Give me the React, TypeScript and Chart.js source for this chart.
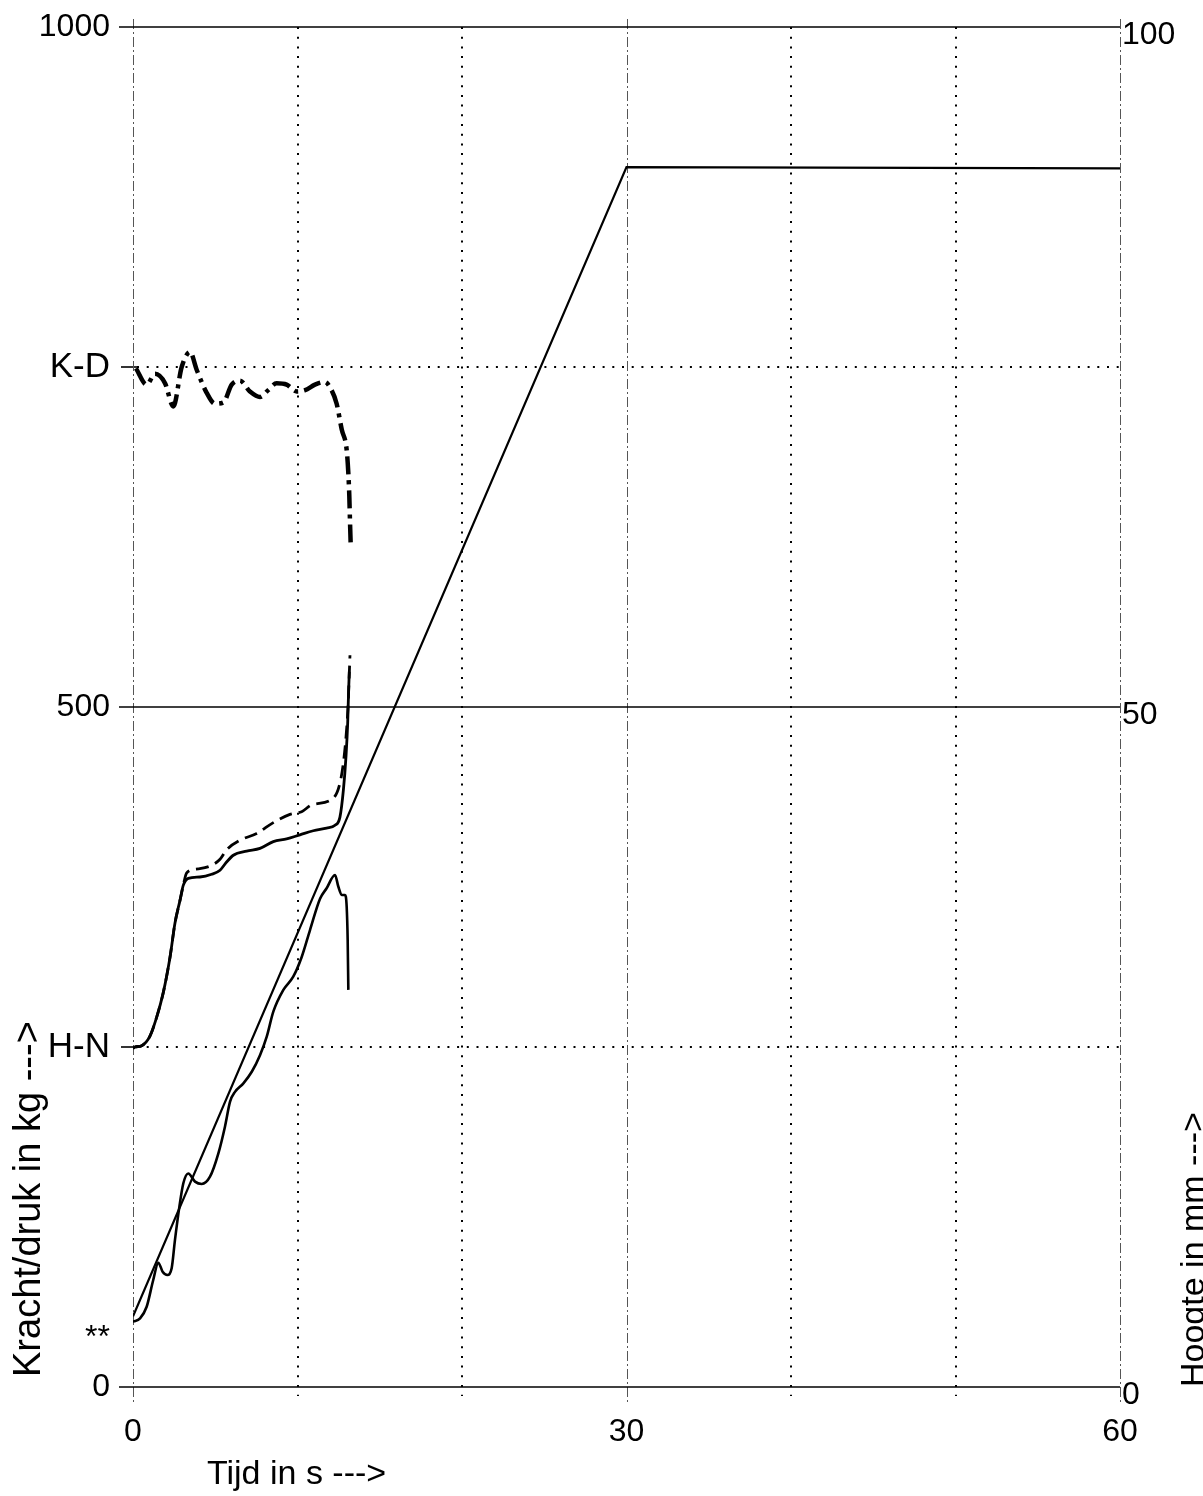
import React, { useEffect, useRef } from 'react';
import { Chart, registerables } from 'chart.js';

Chart.register(...registerables);

const FONT = '"Liberation Sans", Arial, Helvetica, sans-serif';

// ---- text ----
const xTitle = 'Tijd in s --->';
const yLeftTitle = 'Kracht/druk in kg --->';
const yRightTitle = 'Hoogte in mm --->';

// ---- ticks / grid ----
const xTickValues = [0, 30, 60];
const xDottedGrid = [10, 20, 40, 50];
const xDashDotGrid = [0, 30, 60];
const leftTickValues = [0, 36, 250, 500, 750, 1000];
const leftTickLabels = ['0', '**', 'H-N', '500', 'K-D', '1000'];
const leftSolidGrid = [0, 500, 1000];
const leftDottedGrid = [250, 750];
const rightTickValues = [0, 50, 100];
const rightTickLabels = ['0', '50', '100'];

// ---- series: dash-dot force curve (kg) ----
const kdTime = [0.18, 0.83, 1.34, 1.95, 2.45, 2.96, 3.47, 3.87, 4.48, 4.98, 5.5, 6.0, 6.5, 7.11, 7.72, 8.22, 8.73, 9.34, 9.95, 10.46, 11.06, 11.67, 11.98, 12.38, 12.69, 12.99, 13.09, 13.15, 13.19, 13.23];
const kdForce = [749, 737, 745, 738, 721, 750, 761, 748, 731, 723, 724, 737, 740, 732, 728, 733, 738, 737, 732, 733, 737, 739, 735, 723, 704, 689, 672, 655, 637, 621];

// ---- series: solid force curve (kg) ----
const solidTime = [0, 0.12, 0.53, 1.03, 1.44, 1.84, 2.25, 2.55, 2.86, 3.06, 3.36, 4.07, 4.78, 5.29, 5.69, 6.1, 6.91, 7.72, 8.53, 9.34, 10.15, 10.96, 11.77, 12.28, 12.58, 12.79, 12.95, 13.05, 13.11, 13.15];
const solidForce = [249, 250, 251, 258, 272, 290, 316, 341, 358, 369, 374, 375, 377, 380, 386, 391, 394, 396, 401, 403, 406, 409, 411, 413, 419, 439, 464, 488, 513, 526];

// ---- series: dashed force curve (kg) ----
const dashedTime = [0, 0.12, 0.53, 1.03, 1.44, 1.84, 2.25, 2.55, 2.86, 3.06, 3.26, 3.97, 4.68, 5.29, 5.69, 6.5, 7.52, 8.53, 9.54, 10.25, 10.86, 12.18, 12.58, 12.79, 12.95, 13.07, 13.15, 13.19];
const dashedForce = [249, 250, 251, 258, 272, 290, 316, 341, 358, 369, 378, 381, 383, 388, 395, 402, 407, 415, 421, 423, 428, 433, 444, 459, 478, 500, 525, 538];

// ---- series: measured height (mm) ----
const heightTime = [0, 0.43, 0.83, 1.23, 1.54, 1.8, 2.09, 2.35, 2.55, 2.82, 3.06, 3.36, 3.77, 4.18, 4.68, 5.19, 5.59, 5.9, 6.2, 6.71, 7.22, 7.72, 8.13, 8.53, 9.14, 9.74, 10.25, 10.76, 11.37, 11.77, 12.28, 12.48, 12.69, 12.89, 12.99, 13.05, 13.09];
const heightMm = [4.8, 5.05, 5.9, 7.87, 9.14, 8.48, 8.24, 8.73, 10.8, 13.26, 14.98, 15.7, 15.1, 14.93, 15.46, 17.18, 19.14, 20.98, 21.7, 22.33, 23.18, 24.4, 25.76, 27.6, 29.2, 30.17, 31.6, 33.6, 35.9, 36.67, 37.65, 36.8, 36.18, 36.18, 35.3, 32.87, 29.2];

// ---- series: programmed height ramp (mm) ----
const rampTime = [0, 30, 60];
const rampMm = [5.2, 89.7, 89.6];

const pts = (xs: number[], ys: number[]) => xs.map((x, i) => ({ x, y: ys[i] }));

const paperGrid = {
  id: 'paperGrid',
  beforeDatasetsDraw(chart: any) {
    const { ctx, chartArea, scales } = chart;
    const { left, right, top, bottom } = chartArea;
    const xs = scales.x;
    const ys = scales.y;
    const line = (x1: number, y1: number, x2: number, y2: number) => {
      ctx.beginPath();
      ctx.moveTo(x1, y1);
      ctx.lineTo(x2, y2);
      ctx.stroke();
    };
    ctx.save();
    // dotted verticals
    ctx.strokeStyle = '#000';
    ctx.lineWidth = 2;
    ctx.setLineDash([2, 7.7]);
    xDottedGrid.forEach((v) => {
      const px = Math.round(xs.getPixelForValue(v));
      line(px, top, px, bottom + 9);
    });
    // dotted horizontals
    leftDottedGrid.forEach((v) => {
      const py = Math.round(ys.getPixelForValue(v));
      line(left + 4, py, right, py);
    });
    ctx.setLineDash([]);
    ctx.lineWidth = 1.6;
    leftDottedGrid.forEach((v) => {
      const py = Math.round(ys.getPixelForValue(v));
      line(left - 12, py, left + 4, py);
    });
    // dash-dot verticals
    ctx.strokeStyle = '#555';
    ctx.lineWidth = 1;
    ctx.setLineDash([10, 3, 2, 3]);
    xDashDotGrid.forEach((v) => {
      const px = Math.round(xs.getPixelForValue(v)) + 0.5;
      line(px, top - 8, px, bottom + 18);
    });
    // solid horizontals
    ctx.setLineDash([]);
    ctx.strokeStyle = '#000';
    ctx.lineWidth = 1.6;
    leftSolidGrid.forEach((v) => {
      const py = Math.round(ys.getPixelForValue(v));
      line(left - 14, py, right, py);
    });
    ctx.restore();
  },
};

const axisTitles = {
  id: 'axisTitles',
  afterDraw(chart: any) {
    const { ctx, chartArea } = chart;
    ctx.save();
    ctx.fillStyle = '#000';
    ctx.textAlign = 'left';
    ctx.textBaseline = 'alphabetic';
    ctx.font = `34px ${FONT}`;
    ctx.fillText(xTitle, 207, 1484);

    ctx.save();
    ctx.translate(40, chartArea.bottom - 10);
    ctx.rotate(-Math.PI / 2);
    ctx.font = `38px ${FONT}`;
    ctx.fillText(yLeftTitle, 0, 0);
    ctx.restore();

    ctx.save();
    ctx.translate(1204, chartArea.bottom);
    ctx.rotate(-Math.PI / 2);
    ctx.font = `34px ${FONT}`;
    ctx.fillText(yRightTitle, 0, 0);
    ctx.restore();
    ctx.restore();
  },
};

const zeroPad = (s: any) => {
  s.paddingTop = 0;
  s.paddingBottom = 0;
  s.paddingLeft = 0;
  s.paddingRight = 0;
};

export default function App() {
  const canvasRef = useRef<HTMLCanvasElement | null>(null);

  useEffect(() => {
    document.body.style.margin = '0';
    const canvas = canvasRef.current;
    if (!canvas) return;
    const common = {
      pointRadius: 0,
      fill: false,
      borderColor: '#000',
      cubicInterpolationMode: 'monotone' as const,
    };
    const chart = new Chart(canvas, {
      type: 'line',
      data: {
        datasets: [
          { ...common, label: 'Hoogte (programma)', data: pts(rampTime, rampMm), yAxisID: 'y1', borderWidth: 2.2, cubicInterpolationMode: 'default', tension: 0 },
          { ...common, label: 'Hoogte (gemeten)', data: pts(heightTime, heightMm), yAxisID: 'y1', borderWidth: 2.6 },
          { ...common, label: 'Druk', data: pts(dashedTime, dashedForce), yAxisID: 'y', borderWidth: 2.8, borderDash: [13, 7] },
          { ...common, label: 'Kracht', data: pts(solidTime, solidForce), yAxisID: 'y', borderWidth: 2.8 },
          { ...common, label: 'K-D', data: pts(kdTime, kdForce), yAxisID: 'y', borderWidth: 4.5, borderDash: [18, 6, 4, 6] },
        ],
      },
      options: {
        responsive: false,
        animation: false,
        devicePixelRatio: 1,
        layout: { padding: { top: 27, left: 0, right: 0, bottom: 0 } },
        plugins: { legend: { display: false }, tooltip: { enabled: false } },
        scales: {
          x: {
            type: 'linear',
            min: 0,
            max: 60,
            grid: { display: false, drawTicks: false },
            border: { display: false },
            afterBuildTicks: (s: any) => {
              s.ticks = xTickValues.map((v) => ({ value: v }));
            },
            afterFit: (s: any) => {
              s.height = 109;
              zeroPad(s);
            },
            ticks: {
              color: '#000',
              font: { family: FONT, size: 32 },
              padding: 26,
              maxRotation: 0,
              autoSkip: false,
            },
          },
          y: {
            type: 'linear',
            position: 'left',
            min: 0,
            max: 1000,
            grid: { display: false, drawTicks: false },
            border: { display: false },
            afterBuildTicks: (s: any) => {
              s.ticks = leftTickValues.map((v) => ({ value: v }));
            },
            afterFit: (s: any) => {
              s.width = 133;
              zeroPad(s);
            },
            ticks: {
              color: '#000',
              autoSkip: false,
              padding: 23,
              font: (c: any) => ({
                family: FONT,
                size: c.tick && (c.tick.value === 250 || c.tick.value === 750) ? 35 : 32,
              }),
              callback: (v: any) => {
                const i = leftTickValues.indexOf(Number(v));
                return i >= 0 ? leftTickLabels[i] : '';
              },
            },
          },
          y1: {
            type: 'linear',
            position: 'right',
            min: 0,
            max: 100,
            grid: { display: false, drawTicks: false },
            border: { display: false },
            afterBuildTicks: (s: any) => {
              s.ticks = rightTickValues.map((v) => ({ value: v }));
            },
            afterFit: (s: any) => {
              s.width = 83;
              zeroPad(s);
            },
            ticks: {
              color: '#000',
              autoSkip: false,
              padding: 2,
              labelOffset: 8,
              font: { family: FONT, size: 32 },
              callback: (v: any) => {
                const i = rightTickValues.indexOf(Number(v));
                return i >= 0 ? rightTickLabels[i] : '';
              },
            },
          },
        },
      },
      plugins: [paperGrid, axisTitles],
    } as any);
    return () => chart.destroy();
  }, []);

  return (
    <div style={{ width: 1203, height: 1496, background: '#fff' }}>
      <canvas ref={canvasRef} width={1203} height={1496} style={{ display: 'block' }} />
    </div>
  );
}
